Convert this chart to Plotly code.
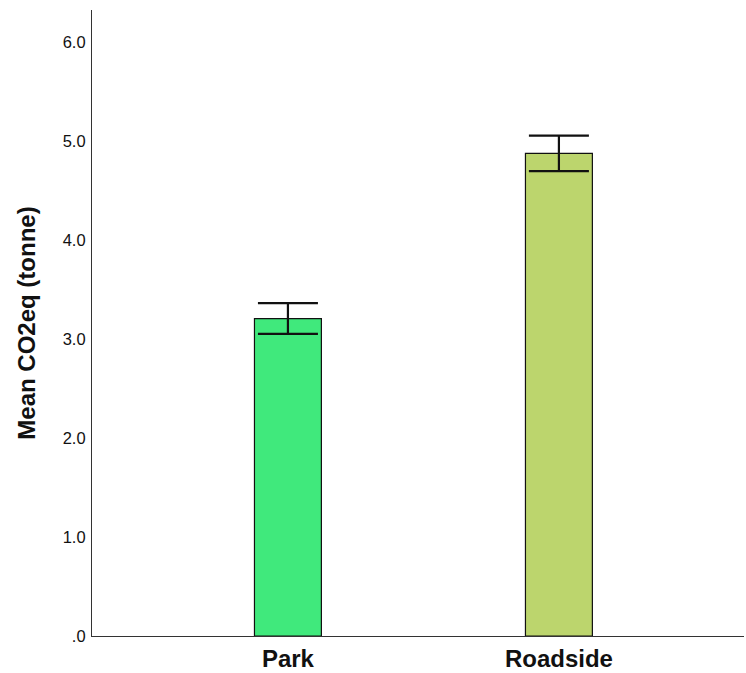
import plotly.graph_objects as go

# Mean CO2eq per site type, with error half-widths
sites = ["Park", "Roadside"]
mean_co2 = [3.21, 4.88]
err_co2 = [0.155, 0.18]
bar_colors = ["#40E97C", "#BCD56D"]

y_tick_vals = [0, 1, 2, 3, 4, 5, 6]
y_tick_text = [".0", "1.0", "2.0", "3.0", "4.0", "5.0", "6.0"]

fig = go.Figure(
    go.Bar(
        x=sites,
        y=mean_co2,
        width=0.247,
        marker=dict(color=bar_colors, line=dict(color="#111111", width=1.2)),
        error_y=dict(type="data", array=err_co2, visible=True,
                     color="#111111", thickness=2.2, width=30),
    )
)

fig.update_layout(
    width=746,
    height=673,
    margin=dict(l=92, r=2, t=10, b=37),
    paper_bgcolor="white",
    plot_bgcolor="white",
    showlegend=False,
    font=dict(family="Liberation Sans, Arial, sans-serif", color="#111111"),
)

fig.update_xaxes(
    range=[-0.723, 1.683],
    showline=True,
    linecolor="#333333",
    linewidth=1.2,
    showgrid=False,
    ticks="",
    automargin=False,
    tickfont=dict(size=24, family="Liberation Sans, Arial, sans-serif", weight="bold"),
    ticklabelstandoff=1,
)

fig.update_yaxes(
    range=[0, 6.33],
    showline=True,
    linecolor="#333333",
    linewidth=1.2,
    showgrid=False,
    zeroline=False,
    ticks="",
    automargin=False,
    tickvals=y_tick_vals,
    ticktext=y_tick_text,
    tickfont=dict(size=16.5),
    ticklabelstandoff=2,
    title=dict(text="<b>Mean CO2eq (tonne)</b>", font=dict(size=24), standoff=20),
)

fig.write_html("out.html")
